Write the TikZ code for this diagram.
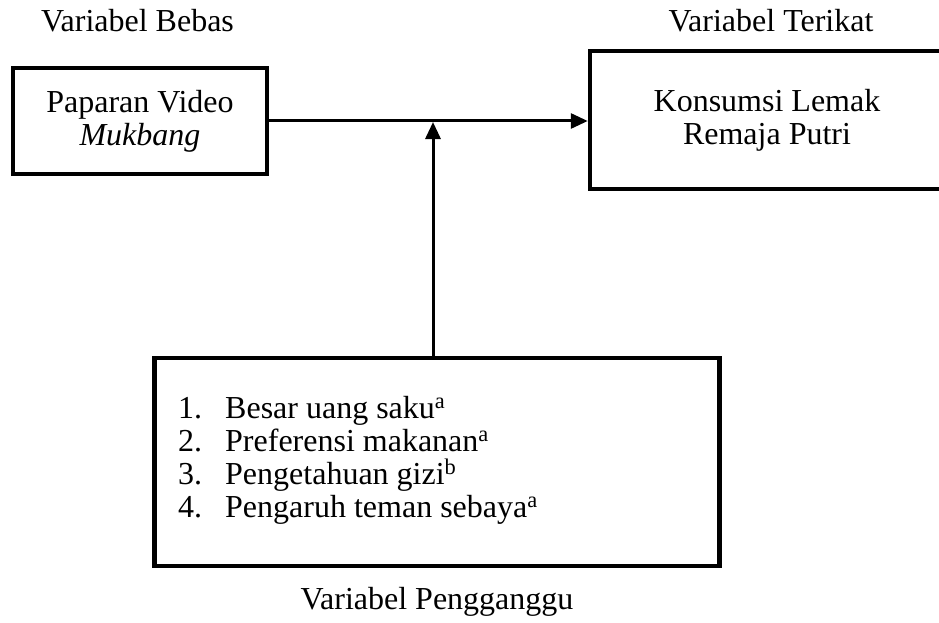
\documentclass[tikz,border=0pt]{standalone}
\usepackage{fontspec}
\setmainfont{Liberation Serif}
\usetikzlibrary{arrows.meta}
\begin{document}
\begin{tikzpicture}[x=1pt,y=-1pt,
  txt/.style={font=\fontsize{32}{36}\selectfont, inner sep=0pt},
  boxn/.style={draw, line width=4.5pt, align=center, inner sep=0pt, font=\fontsize{32}{33}\selectfont},
  arr/.style={line width=3pt, -{Triangle[length=17pt,width=15pt]}}]
\useasboundingbox (0,0) rectangle (939,623);
\node[txt, anchor=base] (lb) at (137.5,32) {Variabel Bebas};
\node[txt, anchor=base] (lt) at (771,32) {Variabel Terikat};
\node[boxn, minimum width=254pt, minimum height=106pt] (x) at (140,121) {Paparan Video\\\textit{Mukbang}};
\node[boxn, minimum width=354pt, minimum height=138pt] (y) at (767,120) {Konsumsi Lemak\\Remaja Putri};
\node[boxn, minimum width=565pt, minimum height=208pt] (z) at (437,462) {};
\node[txt, anchor=base west] (n1) at (178,418) {1.};
\node[txt, anchor=base west] (t1) at (225,418) {Besar uang saku\textsuperscript{a}};
\node[txt, anchor=base west] (n2) at (178,451) {2.};
\node[txt, anchor=base west] (t2) at (225,451) {Preferensi makanan\textsuperscript{a}};
\node[txt, anchor=base west] (n3) at (178,484) {3.};
\node[txt, anchor=base west] (t3) at (225,484) {Pengetahuan gizi\textsuperscript{b}};
\node[txt, anchor=base west] (n4) at (178,517) {4.};
\node[txt, anchor=base west] (t4) at (225,517) {Pengaruh teman sebaya\textsuperscript{a}};
\node[txt, anchor=base] (lp) at (437,609) {Variabel Pengganggu};
\coordinate (m) at (433,122);
\draw[arr] (x.east) -- (y.west |- x.east);
\draw[arr] (z.north -| m) -- (m);
\end{tikzpicture}
\end{document}
